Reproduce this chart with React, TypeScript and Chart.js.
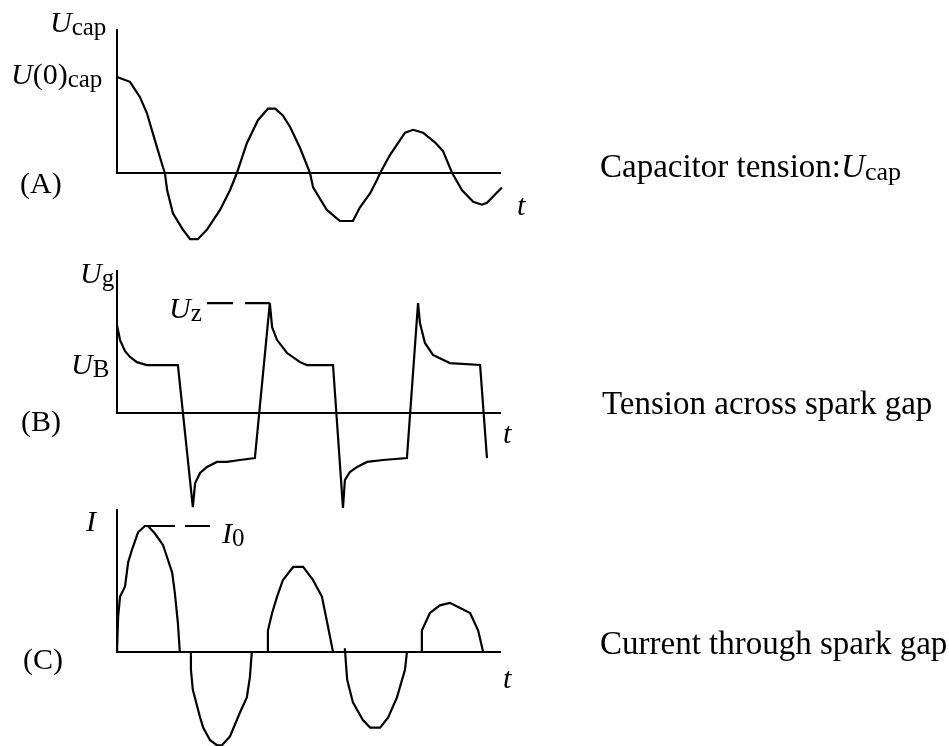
import React, { useEffect, useRef } from 'react';
import { Chart, registerables } from 'chart.js';

Chart.register(...registerables);

// ---------- Data (time in arbitrary units, values normalised) ----------
// (A) capacitor tension U_cap, U(0)_cap = 1
const tA = [0, 0.34, 0.6, 0.78, 0.99, 1.2, 1.25, 1.31, 1.46, 1.72, 1.91, 2.11, 2.35, 2.69, 2.95, 3.13, 3.39, 3.68, 3.94, 4.13, 4.33, 4.52, 4.78, 5.04, 5.12, 5.48, 5.82, 6.16, 6.34, 6.61, 6.79, 6.87, 7.13, 7.52, 7.73, 7.99, 8.3, 8.51, 8.75, 9.01, 9.3, 9.53, 9.66, 10.05];
const uCap = [1.0, 0.95, 0.79, 0.625, 0.34, 0.06, 0, -0.18, -0.42, -0.59, -0.69, -0.69, -0.59, -0.385, -0.18, 0, 0.31, 0.55, 0.67, 0.67, 0.6, 0.48, 0.26, 0, -0.15, -0.385, -0.5, -0.5, -0.36, -0.21, -0.07, 0, 0.19, 0.42, 0.45, 0.42, 0.32, 0.23, 0, -0.18, -0.3, -0.33, -0.31, -0.15];

// (B) tension across spark gap, U_B = 1
const tB = [0, 0.08, 0.21, 0.34, 0.52, 0.78, 1.59, 1.98, 2.04, 2.17, 2.35, 2.61, 2.87, 3.21, 3.6, 3.99, 4.05, 4.18, 4.44, 4.78, 4.96, 5.64, 5.9, 5.95, 6.08, 6.27, 6.53, 6.95, 7.57, 7.86, 7.91, 8.04, 8.25, 8.69, 9.48, 9.66];
const uGap = [1.83, 1.52, 1.29, 1.17, 1.06, 1.0, 1.0, -1.96, -1.46, -1.25, -1.125, -1.02, -1.02, -0.98, -0.94, 2.29, 1.79, 1.52, 1.25, 1.06, 1.0, 1.0, -1.98, -1.4, -1.23, -1.125, -1.02, -0.98, -0.94, 2.29, 1.875, 1.46, 1.21, 1.04, 1.0, -0.94];
const uZ = 2.29;
const uZdashT = [2.35, 3.99];

// (C) current through spark gap, I_0 = 1
const tC = [0, 0.03, 0.08, 0.21, 0.29, 0.39, 0.55, 0.73, 0.81, 0.99, 1.2, 1.31, 1.44, 1.51, 1.59, 1.64, 1.93, 1.93, 1.98, 2.17, 2.25, 2.43, 2.61, 2.74, 2.95, 3.21, 3.39, 3.47, 3.52, 3.94, 3.94, 4.05, 4.18, 4.33, 4.6, 4.86, 5.12, 5.35, 5.51, 5.64, 5.95, 5.95, 5.98, 6.01, 6.16, 6.42, 6.61, 6.87, 7.08, 7.31, 7.52, 7.57, 7.94, 7.96, 8.17, 8.43, 8.69, 8.96, 9.22, 9.43, 9.56];
const iGap = [0, 0.28, 0.44, 0.52, 0.71, 0.81, 0.95, 1.0, 1.0, 0.94, 0.85, 0.75, 0.63, 0.47, 0.23, 0, 0, -0.14, -0.3, -0.52, -0.6, -0.7, -0.74, -0.74, -0.67, -0.48, -0.36, -0.2, 0, 0, 0.17, 0.31, 0.44, 0.57, 0.675, 0.675, 0.57, 0.44, 0.2, 0, 0, 0.03, -0.1, -0.22, -0.4, -0.54, -0.6, -0.6, -0.52, -0.36, -0.14, 0, 0, 0.17, 0.31, 0.37, 0.39, 0.35, 0.31, 0.17, 0];
const i0 = 1.0;
const i0dashT = [0.81, 2.43];

const T_MAX = 10;

const FONT = '"Liberation Serif", "Times New Roman", serif';

type Line = { t: number[]; v: number[]; dash?: number[] };

function zip(t: number[], v: number[]) {
  return t.map((x, i) => ({ x, y: v[i] }));
}

function PanelChart(props: {
  top: number;
  height: number;
  padTop: number;
  padBottom: number;
  yMax: number;
  yMin: number;
  lines: Line[];
}) {
  const ref = useRef<HTMLCanvasElement | null>(null);
  useEffect(() => {
    if (!ref.current) return;
    const chart = new Chart(ref.current, {
      type: 'line',
      data: {
        datasets: props.lines.map((l) => ({
          data: zip(l.t, l.v),
          borderColor: '#000',
          borderWidth: 2.2,
          borderDash: l.dash || [],
          pointRadius: 0,
          tension: 0,
          fill: false,
          clip: false as any,
          borderJoinStyle: 'miter' as const,
        })),
      },
      options: {
        responsive: false,
        animation: false,
        devicePixelRatio: 1,
        layout: { padding: { left: 117, right: 449, top: props.padTop, bottom: props.padBottom } },
        plugins: { legend: { display: false }, tooltip: { enabled: false } },
        events: [],
        scales: {
          x: {
            type: 'linear',
            min: 0,
            max: T_MAX,
            grid: { display: false },
            ticks: { display: false },
            border: { display: true, color: '#000', width: 2 },
            afterFit: (s: any) => { s.height = 0; },
          },
          y: {
            type: 'linear',
            min: props.yMin,
            max: props.yMax,
            grid: { display: false },
            ticks: { display: false },
            border: { display: true, color: '#000', width: 2 },
            afterFit: (s: any) => { s.width = 0; },
          },
        },
      } as any,
    });
    return () => chart.destroy();
  }, []);
  return (
    <canvas
      ref={ref}
      width={949}
      height={props.height}
      style={{ position: 'absolute', left: 0, top: props.top, width: 949, height: props.height }}
    />
  );
}

function Label(props: { x: number; base: number; size: number; italic?: boolean; children: React.ReactNode }) {
  return (
    <div
      style={{
        position: 'absolute',
        left: props.x,
        top: props.base - props.size * 0.8375,
        fontSize: props.size,
        lineHeight: 1,
        fontFamily: FONT,
        fontStyle: props.italic ? 'italic' : 'normal',
        whiteSpace: 'nowrap',
        color: '#000',
      }}
    >
      {props.children}
    </div>
  );
}

function Sub(props: { size: number; drop: number; children: React.ReactNode }) {
  return (
    <span style={{ fontSize: props.size, fontStyle: 'normal', position: 'relative', top: props.drop }}>
      {props.children}
    </span>
  );
}

const L = 30; // left labels
const LS = 25; // left subscripts
const R = 33; // right captions
const RS = 26;

export default function App() {
  return (
    <div style={{ position: 'absolute', left: 0, top: 0, width: 949, height: 746, background: '#fff', overflow: 'hidden' }}>
      {/* (A) */}
      <PanelChart top={0} height={260} padTop={30} padBottom={87} yMin={0} yMax={1.49}
        lines={[{ t: tA, v: uCap }]} />
      {/* (B) */}
      <PanelChart top={250} height={270} padTop={21} padBottom={107} yMin={0} yMax={2.96}
        lines={[{ t: tB, v: uGap }, { t: uZdashT, v: [uZ, uZ], dash: [26, 12] }]} />
      {/* (C) */}
      <PanelChart top={490} height={256} padTop={20} padBottom={94} yMin={0} yMax={1.127}
        lines={[{ t: tC, v: iGap }, { t: i0dashT, v: [i0, i0], dash: [27, 10] }]} />

      <Label x={50} base={32} size={L} italic>U<Sub size={LS} drop={3}>cap</Sub></Label>
      <Label x={11} base={84} size={L}><i>U</i>(0)<Sub size={LS} drop={3}>cap</Sub></Label>
      <Label x={20} base={193} size={L}>(A)</Label>
      <Label x={517} base={215} size={L} italic>t</Label>
      <Label x={600} base={178} size={R}>Capacitor tension:<i>U</i><Sub size={RS} drop={3}>cap</Sub></Label>

      <Label x={80} base={283} size={L} italic>U<Sub size={LS} drop={3}>g</Sub></Label>
      <Label x={169} base={318} size={L} italic>U<Sub size={LS} drop={3}>z</Sub></Label>
      <Label x={71} base={374} size={L} italic>U<Sub size={LS} drop={3}>B</Sub></Label>
      <Label x={21} base={431} size={L}>(B)</Label>
      <Label x={503} base={443} size={L} italic>t</Label>
      <Label x={602} base={415} size={R}>Tension across spark gap</Label>

      <Label x={86} base={531} size={L} italic>I</Label>
      <Label x={222} base={543} size={L} italic>I<Sub size={LS} drop={3}>0</Sub></Label>
      <Label x={23} base={669} size={L}>(C)</Label>
      <Label x={503} base={688} size={L} italic>t</Label>
      <Label x={600} base={655} size={R}>Current through spark gap</Label>
    </div>
  );
}
